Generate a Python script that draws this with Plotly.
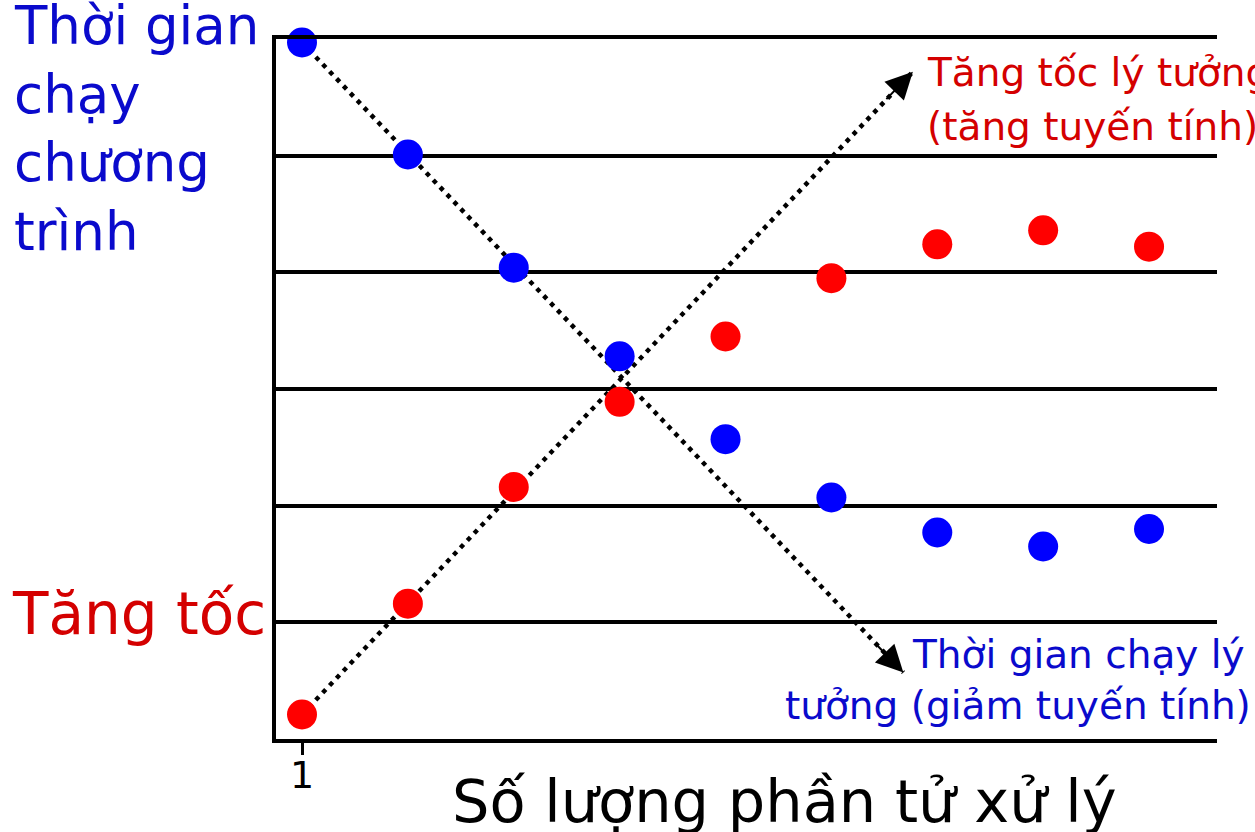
import plotly.graph_objects as go

# ---------------- data ----------------
processors = [1, 2, 3, 4, 5, 6, 7, 8, 9]
run_time = [5.97, 5.01, 4.04, 3.28, 2.57, 2.07, 1.77, 1.65, 1.80]
speedup = [0.21, 1.16, 2.16, 2.89, 3.45, 3.95, 4.24, 4.36, 4.22]

ideal_time_x = [1, 6.68]
ideal_time_y = [5.97, 0.57]
ideal_speed_x = [1, 6.77]
ideal_speed_y = [0.21, 5.72]

x_tick_vals = [1]
x_tick_text = ["1"]
grid_vals = [1, 2, 3, 4, 5]

# ---------------- geometry / style ----------------
W, H = 1255, 832
L, R, T, B = 276, 1217, 39, 739
FONT = "DejaVu Sans"
BLUE_PT = "#0000ff"
RED_PT = "#ff0000"
BLUE_TXT = "#0a0acc"
RED_TXT = "#d40000"


def xp(px):
    return (px - L) / (R - L)


def yp(py):
    return (B - py) / (B - T)


fig = go.Figure()

dot_line = dict(color="black", width=4.5, dash="4.5px,5.5px")
fig.add_trace(go.Scatter(x=ideal_time_x, y=ideal_time_y, mode="lines",
                         line=dot_line, hoverinfo="skip", cliponaxis=False))
fig.add_trace(go.Scatter(x=ideal_speed_x, y=ideal_speed_y, mode="lines",
                         line=dot_line, hoverinfo="skip", cliponaxis=False))

fig.add_trace(go.Scatter(x=processors, y=run_time, mode="markers",
                         marker=dict(color=BLUE_PT, size=30, line=dict(width=0)),
                         cliponaxis=False))
fig.add_trace(go.Scatter(x=processors, y=speedup, mode="markers",
                         marker=dict(color=RED_PT, size=30, line=dict(width=0)),
                         cliponaxis=False))

annotations = []

for tx, ty, ax, ay in [(ideal_time_x[-1], ideal_time_y[-1], -28, -29),
                       (ideal_speed_x[-1], ideal_speed_y[-1], -28, 29)]:
    annotations.append(dict(x=tx, y=ty, xref="x", yref="y", text="",
                            showarrow=True, arrowhead=2, arrowwidth=2,
                            arrowsize=2.7, arrowcolor="black", ax=ax, ay=ay,
                            standoff=0))


def text_ann(txt, px, baseline, size, color, anchor="left"):
    annotations.append(dict(text=txt, xref="paper", yref="paper",
                            x=xp(px), y=yp(baseline - 0.346 * size),
                            xanchor=anchor, yanchor="middle", showarrow=False,
                            font=dict(family=FONT, size=size, color=color)))


for i, line in enumerate(["Thời gian", "chạy", "chương", "trình"]):
    text_ann(line, 12, 44 + i * 68.5, 53, BLUE_TXT)

text_ann("Tăng tốc", 10, 634, 58, RED_TXT)

text_ann("Tăng tốc lý tưởng", 925, 86, 39, RED_TXT)
text_ann("(tăng tuyến tính)", 925, 140, 39, RED_TXT)

text_ann("Thời gian chạy lý", 1247, 668, 39, BLUE_TXT, anchor="right")
text_ann("tưởng (giảm tuyến tính)", 1253, 719, 39, BLUE_TXT, anchor="right")

text_ann("Số lượng phần tử xử lý", 450, 822, 59, "black")

for v, t in zip(x_tick_vals, x_tick_text):
    annotations.append(dict(text=t, x=v, xref="x", yref="paper",
                            y=yp(788 - 0.346 * 38), xanchor="center",
                            yanchor="middle", showarrow=False,
                            font=dict(family=FONT, size=38, color="black")))

fig.update_layout(
    width=W, height=H,
    margin=dict(l=L, r=W - R, t=T, b=H - B, pad=0),
    paper_bgcolor="white", plot_bgcolor="white",
    showlegend=False,
    annotations=annotations,
    xaxis=dict(range=[0.7544, 9.642], showgrid=False, zeroline=False,
               showline=True, linecolor="black", linewidth=3.5, mirror=True,
               tickmode="array", tickvals=x_tick_vals, showticklabels=False,
               ticks="outside", ticklen=12, tickwidth=3, tickcolor="black"),
    yaxis=dict(range=[0, 6], showgrid=True, gridcolor="black", gridwidth=3.5,
               tickmode="array", tickvals=grid_vals, showticklabels=False,
               ticks="", zeroline=False, showline=True, linecolor="black",
               linewidth=4, mirror=False),
)

fig.write_html("out.html",
               config={"displayModeBar": False},
               post_script="document.body.style.margin='0';"
                           "document.body.style.overflow='hidden';")
